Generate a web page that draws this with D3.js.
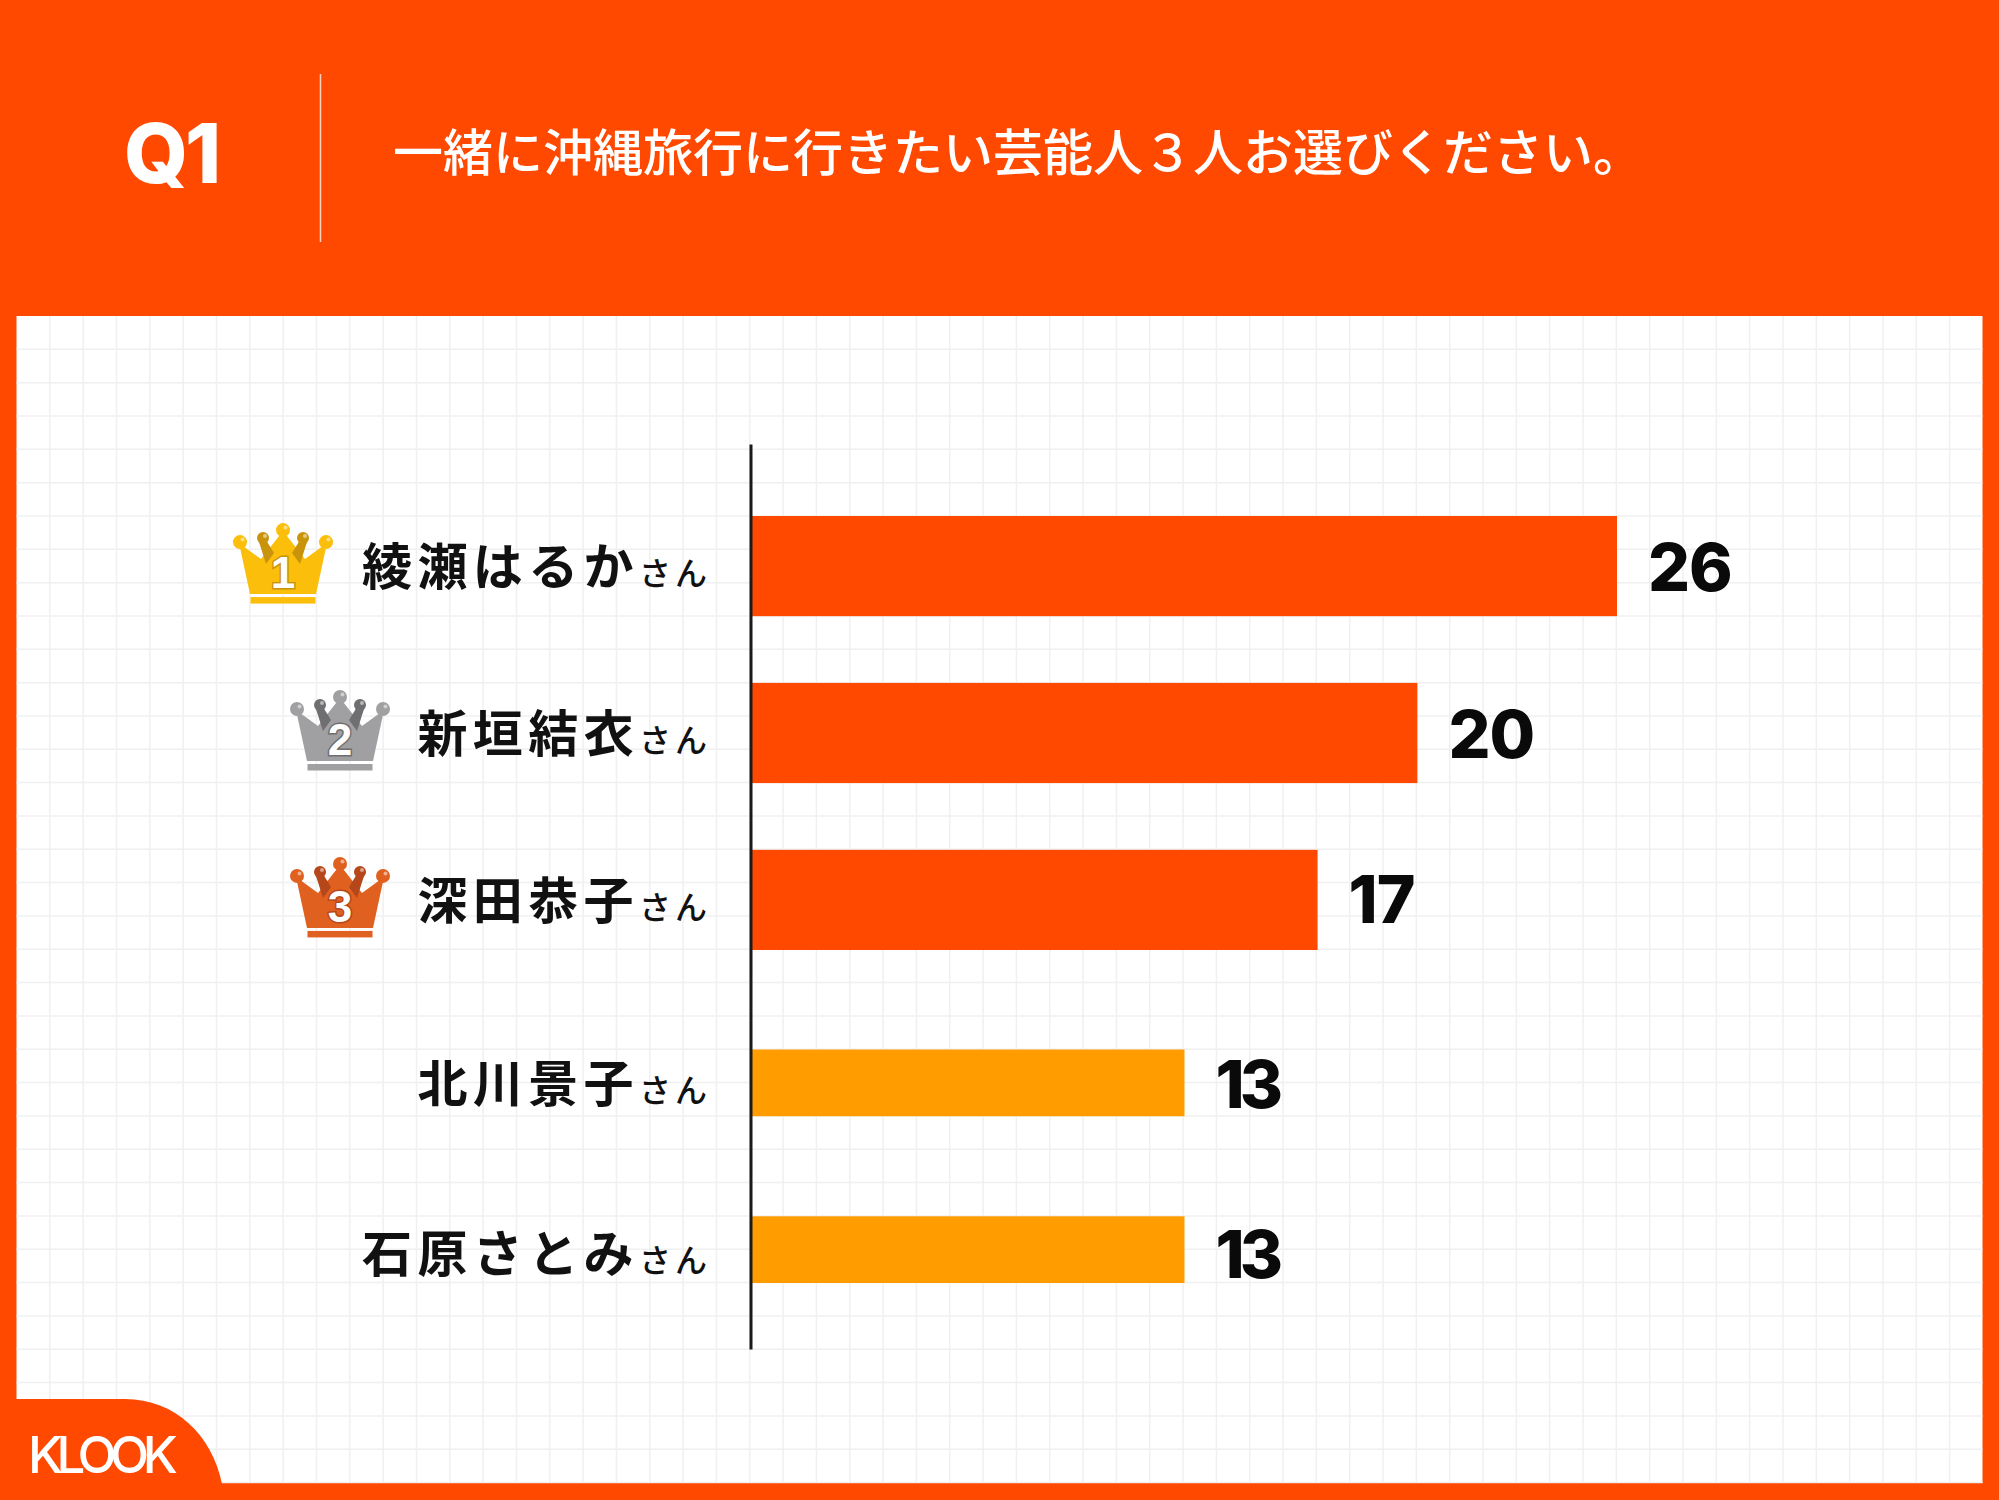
<!DOCTYPE html>
<html>
<head>
<meta charset="utf-8">
<script src="https://cdnjs.cloudflare.com/ajax/libs/d3/7.8.5/d3.min.js"></script>
<style>
html, body { margin: 0; padding: 0; background: #fff; }
svg { display: block; }
.name { font-family: "Noto Sans CJK JP", sans-serif; font-weight: 700; fill: #111; }
.value { font-family: Inter, sans-serif; font-weight: 800; fill: #0a0a0a; }
</style>
</head>
<body>
<div id="chart"></div>
<script>
const topNames = ["綾瀬はるか", "新垣結衣", "深田恭子"];
const topValues = [26, 20, 17];
const topRanks = [1, 2, 3];
const otherNames = ["北川景子", "石原さとみ"];
const otherValues = [13, 13];
const questionLabel = "Q1";
const questionText = "一緒に沖縄旅行に行きたい芸能人３人お選びください。";
const nameSuffix = "さん";
const brandLabel = "KLOOK";

const ORANGE = "#ff4800";
const AMBER = "#ff9d00";
const WIDTH = 1999, HEIGHT = 1500;
const panel = { left: 16.5, top: 316, right: 1982.5, bottom: 1483 };

const crownColors = {
	1: { body: "#fbbf0b", dark: "#c9930c" },
	2: { body: "#a0a0a2", dark: "#6f6f71" },
	3: { body: "#e0601f", dark: "#b5471a" }
};

var svg = d3.select("#chart").append("svg")
	.attr("width", WIDTH)
	.attr("height", HEIGHT);

const drawFrame = () => {
	svg.append("rect")
		.attr("width", WIDTH)
		.attr("height", HEIGHT)
		.attr("fill", ORANGE);
	svg.append("rect")
		.attr("x", panel.left)
		.attr("y", panel.top)
		.attr("width", panel.right - panel.left)
		.attr("height", panel.bottom - panel.top)
		.attr("fill", "#fff");

	// grid paper behind the bars
	var grid = svg.append("g").attr("stroke", "#f0f0f1").attr("stroke-width", 1.5);
	grid.selectAll(".v")
		.data(d3.range(panel.left + 33.33, panel.right, 33.33))
		.enter().append("line")
		.attr("x1", d => d).attr("x2", d => d)
		.attr("y1", panel.top).attr("y2", panel.bottom);
	grid.selectAll(".h")
		.data(d3.range(panel.top + 33.33, panel.bottom, 33.33))
		.enter().append("line")
		.attr("x1", panel.left).attr("x2", panel.right)
		.attr("y1", d => d).attr("y2", d => d);
}

const drawHeader = () => {
	svg.append("text")
		.attr("x", 124)
		.attr("y", 183)
		.attr("font-family", "Inter, sans-serif")
		.attr("font-weight", 800)
		.attr("font-size", 82)
		.attr("letter-spacing", -3)
		.attr("fill", "#fff")
		.text(questionLabel);
	svg.append("line")
		.attr("x1", 320.5).attr("x2", 320.5)
		.attr("y1", 74).attr("y2", 242)
		.attr("stroke", "#ffd2bd")
		.attr("stroke-width", 1.5);
	svg.append("text")
		.attr("x", 393)
		.attr("y", 171)
		.attr("font-family", "'Noto Sans CJK JP', sans-serif")
		.attr("font-weight", 500)
		.attr("font-size", 50)
		.attr("fill", "#fff")
		.text(questionText);
}

const drawBrand = () => {
	var p = d3.path();
	p.moveTo(0, 1399);
	p.lineTo(125, 1399);
	p.bezierCurveTo(175, 1399, 212, 1435, 222, 1484);
	p.lineTo(0, 1484);
	p.closePath();
	svg.append("path").attr("d", p.toString()).attr("fill", ORANGE);
	svg.append("text")
		.attr("x", 28)
		.attr("y", 1473)
		.attr("font-family", "Inter, sans-serif")
		.attr("font-weight", 500)
		.attr("font-size", 51)
		.attr("letter-spacing", -6.5)
		.attr("fill", "#fff")
		.text(brandLabel);
}

// crown is drawn in a 100x80 box, top left at (x, y)
const drawCrown = (rank, x, y) => {
	var c = crownColors[rank];
	var g = svg.append("g").attr("transform", "translate(" + x + "," + y + ")");
	g.append("path")
		.attr("d", "M6,20 L28,36 L50,8 L72,36 L94,20 L83,71 L17,71 Z")
		.attr("fill", c.body);
	g.selectAll(".leg")
		.data(["M26,19 L33,17 L41,30 L33,41 Z", "M74,19 L67,17 L59,30 L67,41 Z"])
		.enter().append("path")
		.attr("d", d => d)
		.attr("fill", c.dark);
	g.selectAll(".inner")
		.data([30, 70])
		.enter().append("circle")
		.attr("cx", d => d).attr("cy", 15).attr("r", 6)
		.attr("fill", c.dark);
	g.selectAll(".outer")
		.data([[7, 19], [50, 7], [93, 19]])
		.enter().append("circle")
		.attr("cx", d => d[0]).attr("cy", d => d[1]).attr("r", 7)
		.attr("fill", c.body);
	g.selectAll(".shine")
		.data([[9.5, 16.5], [52.5, 4.5], [95.5, 16.5], [32, 13], [72, 13]])
		.enter().append("circle")
		.attr("cx", d => d[0]).attr("cy", d => d[1]).attr("r", 2)
		.attr("fill", "#fff").attr("opacity", 0.5);
	g.append("rect")
		.attr("x", 17.5).attr("y", 74)
		.attr("width", 65).attr("height", 6.5)
		.attr("fill", c.body);
	g.append("text")
		.attr("x", 50).attr("y", 65)
		.attr("text-anchor", "middle")
		.attr("font-family", "'Liberation Sans', sans-serif")
		.attr("font-weight", 700)
		.attr("font-size", 44)
		.attr("fill", "#fff")
		.attr("stroke", c.dark)
		.attr("stroke-width", 3)
		.attr("paint-order", "stroke")
		.text(rank);
}

const drawChart = () => {
	var x = d3.scaleLinear().domain([0, 26]).range([752, 1617]);
	var yTop = d3.scaleBand().domain(topNames).range([516, 950]).paddingInner(0.4);
	var yOther = d3.scaleBand().domain(otherNames).range([1049.5, 1283]).paddingInner(0.6);
	var yAxis = d3.scaleLinear().range([444, 1349]);

	const rows = topNames.map((n, i) => ({ name: n, value: topValues[i], rank: topRanks[i], y: yTop(n), h: yTop.bandwidth(), color: ORANGE }))
		.concat(otherNames.map((n, i) => ({ name: n, value: otherValues[i], y: yOther(n), h: yOther.bandwidth(), color: AMBER })));

	var g = svg.selectAll(".row")
		.data(rows)
		.enter().append("g")
		.attr("class", "row");

	g.append("rect")
		.attr("x", x(0))
		.attr("y", d => d.y)
		.attr("width", d => x(d.value) - x(0))
		.attr("height", d => d.h)
		.attr("fill", d => d.color);

	// last row sits a little lower than its bar in the original
	g.append("text")
		.attr("class", "value")
		.attr("x", d => x(d.value) + 31)
		.attr("y", (d, i) => d.y + d.h / 2 + (i === 4 ? 28 : i === 2 ? 23 : 25))
		.attr("font-size", 66)
		.attr("letter-spacing", d => d.value === 13 ? -5 : -1)
		.text(d => d.value);

	var label = g.append("text")
		.attr("class", "name")
		.attr("x", 711)
		.attr("y", (d, i) => d.y + d.h / 2 + (i === 4 ? 22 : 19))
		.attr("text-anchor", "end");
	label.append("tspan")
		.attr("font-size", 50)
		.attr("letter-spacing", 5.4)
		.text(d => d.name);
	label.append("tspan")
		.attr("font-size", 32)
		.attr("font-weight", 500)
		.attr("letter-spacing", 4)
		.text(nameSuffix);

	// vertical axis, no ticks in the original
	svg.append("g")
		.attr("transform", "translate(" + 750.5 + ",0)")
		.call(d3.axisLeft(yAxis).ticks(0).tickSize(0).tickSizeOuter(0))
		.select(".domain")
		.attr("stroke", "#1a1a1a")
		.attr("stroke-width", 3);

	rows.filter(d => d.rank).forEach(d => {
		drawCrown(d.rank, d.rank === 1 ? 233 : 290, d.y + d.h / 2 - 43);
	});
}

drawFrame();
drawHeader();
drawChart();
drawBrand();
</script>
</body>
</html>
